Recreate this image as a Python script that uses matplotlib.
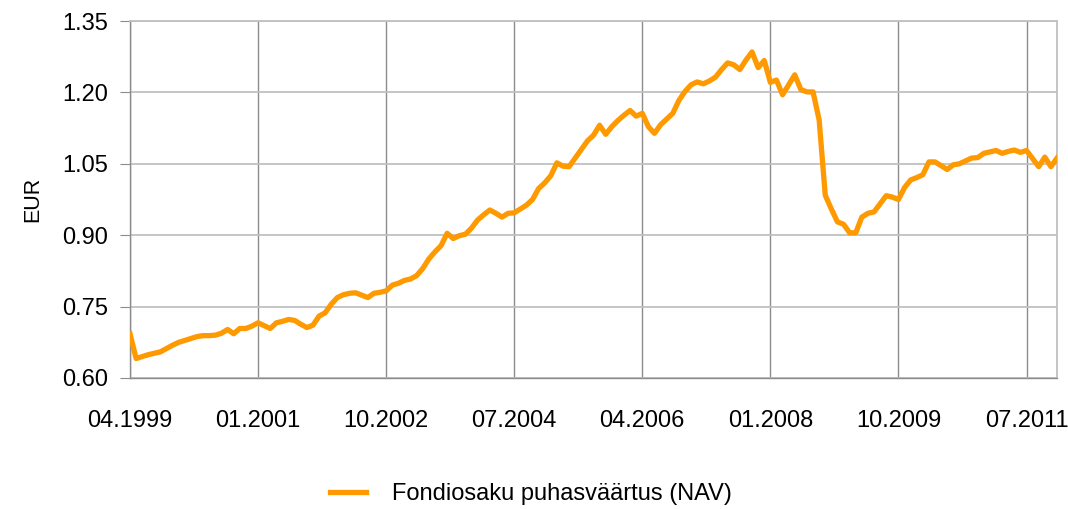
import matplotlib.pyplot as plt
import numpy as np
import pandas as pd

plt.rcParams['font.family'] = ['Liberation Sans', 'DejaVu Sans']

# monthly NAV, 04.1999 - 12.2011
months = pd.date_range('1999-04-01', periods=153, freq='MS')
nav = [
    0.693, 0.641, 0.645, 0.649, 0.652, 0.655, 0.662, 0.669, 0.675, 0.679,
    0.683, 0.687, 0.689, 0.689, 0.690, 0.694, 0.702, 0.693, 0.704, 0.704,
    0.709, 0.716, 0.710, 0.704, 0.716, 0.719, 0.723, 0.721, 0.713, 0.706,
    0.711, 0.730, 0.737, 0.755, 0.769, 0.775, 0.778, 0.779, 0.774, 0.769,
    0.778, 0.780, 0.783, 0.795, 0.799, 0.805, 0.808, 0.815, 0.830, 0.850,
    0.865, 0.878, 0.904, 0.893, 0.899, 0.902, 0.915, 0.932, 0.943, 0.953,
    0.946, 0.938, 0.946, 0.947, 0.955, 0.963, 0.975, 0.998, 1.010, 1.025,
    1.052, 1.045, 1.044, 1.062, 1.080, 1.098, 1.110, 1.131, 1.112, 1.128,
    1.141, 1.152, 1.162, 1.150, 1.156, 1.128, 1.114, 1.132, 1.144, 1.156,
    1.183, 1.202, 1.216, 1.222, 1.218, 1.224, 1.232, 1.248, 1.262, 1.258,
    1.248, 1.268, 1.285, 1.252, 1.267, 1.221, 1.226, 1.195, 1.216, 1.237,
    1.206, 1.201, 1.201, 1.142, 0.984, 0.955, 0.928, 0.923, 0.905, 0.905,
    0.938, 0.946, 0.949, 0.966, 0.983, 0.980, 0.975, 1.000, 1.016, 1.021,
    1.027, 1.054, 1.054, 1.046, 1.038, 1.048, 1.050, 1.056, 1.062, 1.063,
    1.072, 1.075, 1.078, 1.072, 1.076, 1.079, 1.074, 1.078, 1.061, 1.044,
    1.064, 1.044, 1.062,
]
yticks = [0.60, 0.75, 0.90, 1.05, 1.20, 1.35]
label = 'Fondiosaku puhasväärtus (NAV)'

fig = plt.figure(figsize=(10.68, 5.09), dpi=100)
ax = fig.add_axes([130/1068, 1 - 378/509, (1057 - 130)/1068, (378 - 21)/509])

x = np.arange(len(nav))
ax.plot(x, nav, color='#ff9900', linewidth=3.8, solid_joinstyle='round',
        label=label, zorder=3)

ax.set_xlim(0, len(nav) - 1)
ax.set_ylim(0.60, 1.35)
ax.set_yticks(yticks)
ax.set_yticklabels([f'{v:.2f}' for v in yticks])
xt = np.arange(0, len(nav), 21)
ax.set_xticks(xt)
ax.set_xticklabels([months[i].strftime('%m.%Y') for i in xt])

ax.grid(axis='y', color='#c0c0c0', linewidth=1.3)
ax.grid(axis='x', color='#8c8c8c', linewidth=1.0)
ax.set_axisbelow(True)

for side in ['left', 'bottom']:
    ax.spines[side].set_color('#8c8c8c')
    ax.spines[side].set_linewidth(1.0)
for side in ['top', 'right']:
    ax.spines[side].set_color('#c0c0c0')
    ax.spines[side].set_linewidth(1.3)

ax.tick_params(axis='y', length=7, color='#8c8c8c', pad=9, labelsize=17)
ax.tick_params(axis='x', length=0, pad=23, labelsize=17)
ax.set_ylabel('EUR', fontsize=15.5, labelpad=13)

fig.legend(loc='center', bbox_to_anchor=(531/1068, 15/509), frameon=False,
           fontsize=17, handlelength=1.5, handletextpad=1.1,
           borderpad=0, borderaxespad=0)

fig.savefig('out.png', dpi=100)
